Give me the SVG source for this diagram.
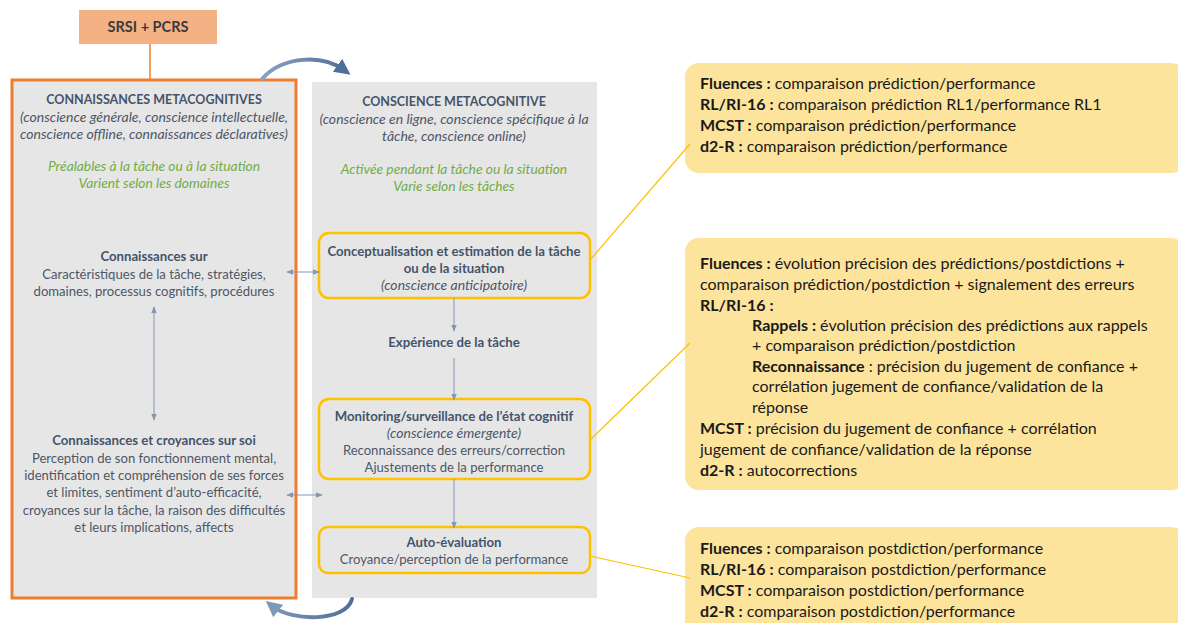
<svg xmlns="http://www.w3.org/2000/svg" width="1178" height="623" viewBox="0 0 1178 623">
  <style>
    text { font-family: Lato, "Liberation Sans", sans-serif; }
    .hdr { font-weight: bold; fill: #44546a; font-size: 12.5px; text-anchor: middle; }
    .it { font-style: italic; fill: #4d5666; font-size: 14px; text-anchor: middle; }
    .grn { font-style: italic; fill: #70ad47; font-size: 13.8px; text-anchor: middle; }
    .sub { font-weight: bold; fill: #44546a; font-size: 13.2px; text-anchor: middle; }
    .body { fill: #4d5666; font-size: 13.1px; text-anchor: middle; }
    .rt { fill: #1a1a1a; font-size: 16px; }
    .rt tspan.b { font-weight: bold; }
    .panel { fill: #e7e6e6; }
    .step { fill: #e7e6e6; stroke: #ffc000; stroke-width: 2.5; }
    .note { fill: #fde49d; }
    .link { stroke: #8497b0; stroke-width: 1; fill: none; }
    .tie { stroke: #ffc000; stroke-width: 1.2; fill: none; }
    .loop { stroke-width: 4; fill: none; stroke-linecap: round; }
  </style>
  <defs>
    <marker id="tip" viewBox="0 0 10 10" refX="9" refY="5" markerWidth="7" markerHeight="7" orient="auto-start-reverse" markerUnits="userSpaceOnUse">
      <path d="M0,1 L10,5 L0,9 z" fill="#8497b0"/>
    </marker>
    <marker id="bigtipDark" viewBox="0 0 10 10" refX="5" refY="5" markerWidth="4" markerHeight="4" orient="auto">
      <path d="M0,0 L10,5 L0,10 z" fill="#4f6f96"/>
    </marker>
    <marker id="bigtipLight" viewBox="0 0 10 10" refX="5" refY="5" markerWidth="4" markerHeight="4" orient="auto">
      <path d="M0,0 L10,5 L0,10 z" fill="#7f98b8"/>
    </marker>
    <linearGradient id="loopTop" x1="262" y1="0" x2="348" y2="0" gradientUnits="userSpaceOnUse">
      <stop offset="0" stop-color="#8aa2c0"/>
      <stop offset="1" stop-color="#4f6f96"/>
    </linearGradient>
    <linearGradient id="loopBottom" x1="352" y1="0" x2="268" y2="0" gradientUnits="userSpaceOnUse">
      <stop offset="0" stop-color="#4f6f96"/>
      <stop offset="1" stop-color="#7f98b8"/>
    </linearGradient>
  </defs>

  <!-- source box -->
  <g id="srsi">
    <rect x="79" y="10" width="138" height="34" fill="#f4b183"/>
    <text x="148" y="32" text-anchor="middle" font-weight="bold" font-size="14.5" fill="#3a3a3a">SRSI + PCRS</text>
  </g>

  <!-- metacognitive knowledge panel -->
  <g id="connaissances">
    <rect x="12" y="80" width="284" height="518" class="panel" stroke="#ed7d31" stroke-width="3"/>
    <text class="hdr" x="154" y="104">CONNAISSANCES METACOGNITIVES</text>
    <text class="it" x="154" y="122">(conscience générale, conscience intellectuelle,</text>
    <text class="it" x="154" y="139">conscience offline, connaissances déclaratives)</text>
    <text class="grn" x="154" y="171">Préalables à la tâche ou à la situation</text>
    <text class="grn" x="154" y="188">Varient selon les domaines</text>
    <text class="sub" x="154" y="261">Connaissances sur</text>
    <text class="body" x="154" y="279">Caractéristiques de la tâche, stratégies,</text>
    <text class="body" x="154" y="296">domaines, processus cognitifs, procédures</text>
    <text class="sub" x="154" y="445">Connaissances et croyances sur soi</text>
    <text class="body" x="154" y="463">Perception de son fonctionnement mental,</text>
    <text class="body" x="154" y="480">identification et compréhension de ses forces</text>
    <text class="body" x="154" y="497">et limites, sentiment d’auto-efficacité,</text>
    <text class="body" x="154" y="515">croyances sur la tâche, la raison des difficultés</text>
    <text class="body" x="154" y="532">et leurs implications, affects</text>
  </g>

  <!-- metacognitive awareness panel -->
  <g id="conscience">
    <rect x="312" y="82" width="285" height="516" class="panel"/>
    <text class="hdr" x="454" y="106">CONSCIENCE METACOGNITIVE</text>
    <text class="it" x="454" y="124">(conscience en ligne, conscience spécifique à la</text>
    <text class="it" x="454" y="141">tâche, conscience online)</text>
    <text class="grn" x="454" y="174">Activée pendant la tâche ou la situation</text>
    <text class="grn" x="454" y="191">Varie selon les tâches</text>
    <text class="sub" x="454" y="347">Expérience de la tâche</text>
  </g>

  <g id="conceptualisation">
    <rect x="319" y="233" width="271" height="65" rx="10" class="step"/>
    <text class="sub" x="454" y="256">Conceptualisation et estimation de la tâche</text>
    <text class="sub" x="454" y="273">ou de la situation</text>
    <text class="it" x="454" y="290" font-size="13">(conscience anticipatoire)</text>
  </g>

  <g id="monitoring">
    <rect x="319" y="399" width="271" height="80" rx="10" class="step"/>
    <text class="sub" x="454" y="421">Monitoring/surveillance de l’état cognitif</text>
    <text class="it" x="454" y="438" font-size="13">(conscience émergente)</text>
    <text class="body" x="454" y="455">Reconnaissance des erreurs/correction</text>
    <text class="body" x="454" y="472">Ajustements de la performance</text>
  </g>

  <g id="autoevaluation">
    <rect x="319" y="527" width="271" height="46" rx="9" class="step"/>
    <text class="sub" x="454" y="547">Auto-évaluation</text>
    <text class="body" x="454" y="564">Croyance/perception de la performance</text>
  </g>

  <!-- measures -->
  <g id="mesures-prediction">
    <rect x="685" y="63" width="500" height="110" rx="14" class="note"/>
    <text class="rt" x="700" y="89"><tspan class="b">Fluences :</tspan> comparaison prédiction/performance</text>
    <text class="rt" x="700" y="110"><tspan class="b">RL/RI-16 :</tspan> comparaison prédiction RL1/performance RL1</text>
    <text class="rt" x="700" y="131"><tspan class="b">MCST :</tspan> comparaison prédiction/performance</text>
    <text class="rt" x="700" y="152"><tspan class="b">d2-R :</tspan> comparaison prédiction/performance</text>
  </g>

  <g id="mesures-monitoring">
    <rect x="685" y="238" width="500" height="252" rx="14" class="note"/>
    <text class="rt" x="700" y="269"><tspan class="b">Fluences :</tspan> évolution précision des prédictions/postdictions +</text>
    <text class="rt" x="700" y="290">comparaison prédiction/postdiction + signalement des erreurs</text>
    <text class="rt" x="700" y="311"><tspan class="b">RL/RI-16 :</tspan></text>
    <text class="rt" x="752" y="331"><tspan class="b">Rappels :</tspan> évolution précision des prédictions aux rappels</text>
    <text class="rt" x="752" y="351">+ comparaison prédiction/postdiction</text>
    <text class="rt" x="752" y="372"><tspan class="b">Reconnaissance</tspan> : précision du jugement de confiance +</text>
    <text class="rt" x="752" y="392">corrélation jugement de confiance/validation de la</text>
    <text class="rt" x="752" y="413">réponse</text>
    <text class="rt" x="700" y="434"><tspan class="b">MCST :</tspan> précision du jugement de confiance + corrélation</text>
    <text class="rt" x="700" y="455">jugement de confiance/validation de la réponse</text>
    <text class="rt" x="700" y="476"><tspan class="b">d2-R :</tspan> autocorrections</text>
  </g>

  <g id="mesures-postdiction">
    <rect x="685" y="527" width="500" height="110" rx="14" class="note"/>
    <text class="rt" x="700" y="554"><tspan class="b">Fluences :</tspan> comparaison postdiction/performance</text>
    <text class="rt" x="700" y="575"><tspan class="b">RL/RI-16 :</tspan> comparaison postdiction/performance</text>
    <text class="rt" x="700" y="596"><tspan class="b">MCST :</tspan> comparaison postdiction/performance</text>
    <text class="rt" x="700" y="617"><tspan class="b">d2-R :</tspan> comparaison postdiction/performance</text>
  </g>

  <!-- connectors -->
  <g id="connectors">
    <line x1="150" y1="44" x2="150" y2="80" stroke="#ed7d31" stroke-width="1.5"/>
    <line class="link" x1="154" y1="307" x2="154" y2="420" marker-start="url(#tip)" marker-end="url(#tip)"/>
    <line class="link" x1="287" y1="272" x2="319" y2="272" marker-start="url(#tip)" marker-end="url(#tip)"/>
    <line class="link" x1="287" y1="495" x2="322" y2="495" marker-start="url(#tip)" marker-end="url(#tip)"/>
    <line class="link" x1="454" y1="298" x2="454" y2="331" marker-end="url(#tip)"/>
    <line class="link" x1="454" y1="358" x2="454" y2="400" marker-end="url(#tip)"/>
    <line class="link" x1="454" y1="479" x2="454" y2="528" marker-end="url(#tip)"/>
    <line class="tie" x1="590" y1="260" x2="690" y2="144"/>
    <line class="tie" x1="590" y1="440" x2="690" y2="343"/>
    <line class="tie" x1="590" y1="556" x2="690" y2="578"/>
    <path class="loop" stroke="url(#loopTop)" d="M262,79 C282,56 322,54 344,70" marker-end="url(#bigtipDark)"/>
    <path class="loop" stroke="url(#loopBottom)" d="M352,599 C346,622 292,622 272,606" marker-end="url(#bigtipLight)"/>
  </g>
</svg>
